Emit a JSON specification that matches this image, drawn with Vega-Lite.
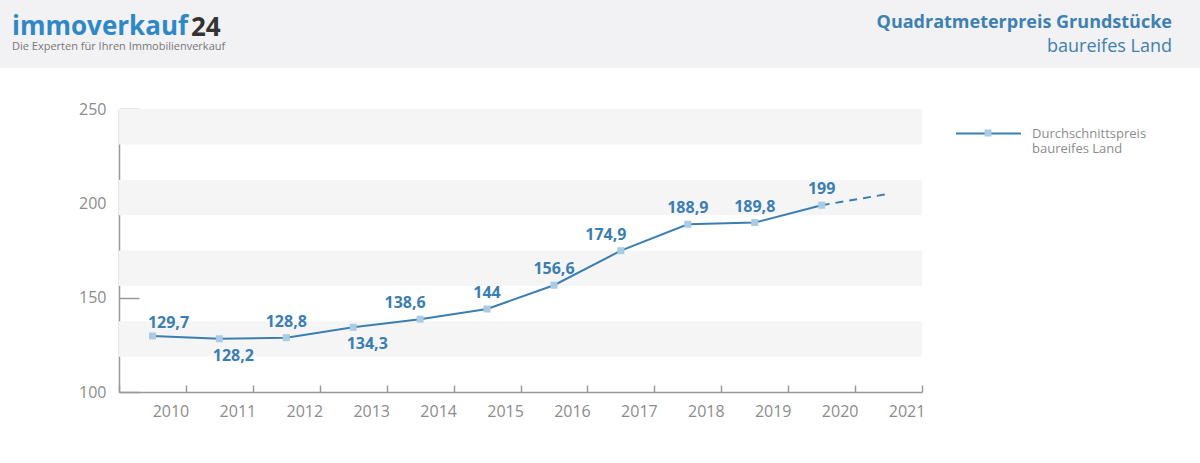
{
  "$schema": "https://vega.github.io/schema/vega-lite/v6.json",
  "padding": {"left": 0, "top": 0, "right": 0, "bottom": 40},
  "background": "white",
  "config": {
    "font": "Open Sans",
    "view": {"stroke": null},
    "locale": {"number": {"decimal": ",", "thousands": ".", "grouping": [3], "currency": ["", " €"]}}
  },
  "title": {
    "text": "immoverkauf", "subtitle": "Die Experten für Ihren Immobilienverkauf",
    "anchor": "start", "frame": "group", "orient": "top", "offset": -52, "dx": 12, "limit": 1000,
    "font": "Open Sans", "fontSize": 26, "fontWeight": "bold", "color": "#2f88c6",
    "subtitleFont": "Open Sans", "subtitleFontSize": 11, "subtitleColor": "#777777", "subtitlePadding": 1
  },
  "datasets": {
    "prices": [
      {"year": 2010, "value": 129.7, "series": "Durchschnittspreis baureifes Land"},
      {"year": 2011, "value": 128.2, "series": "Durchschnittspreis baureifes Land"},
      {"year": 2012, "value": 128.8, "series": "Durchschnittspreis baureifes Land"},
      {"year": 2013, "value": 134.3, "series": "Durchschnittspreis baureifes Land"},
      {"year": 2014, "value": 138.6, "series": "Durchschnittspreis baureifes Land"},
      {"year": 2015, "value": 144, "series": "Durchschnittspreis baureifes Land"},
      {"year": 2016, "value": 156.6, "series": "Durchschnittspreis baureifes Land"},
      {"year": 2017, "value": 174.9, "series": "Durchschnittspreis baureifes Land"},
      {"year": 2018, "value": 188.9, "series": "Durchschnittspreis baureifes Land"},
      {"year": 2019, "value": 189.8, "series": "Durchschnittspreis baureifes Land"},
      {"year": 2020, "value": 199, "series": "Durchschnittspreis baureifes Land"}
    ],
    "projection": [
      {"year": 2020, "value": 199},
      {"year": 2021, "value": 205}
    ],
    "bands": [
      {"from": 231.25, "to": 250},
      {"from": 193.75, "to": 212.5},
      {"from": 156.25, "to": 175},
      {"from": 118.75, "to": 137.5}
    ]
  },
  "spacing": 32,
  "resolve": {"legend": {"stroke": "independent", "fill": "independent"}},
  "vconcat": [
    {
      "spacing": 0,
      "bounds": "flush",
      "hconcat": [
        {
          "width": 191, "height": 68,
          "view": {"fill": "#f2f2f4", "stroke": null},
          "data": {"values": []},
          "mark": "point"
        },
        {
          "width": 39, "height": 68,
          "view": {"fill": "#f2f2f4", "stroke": null},
          "data": {"values": []},
          "mark": "point",
          "title": {
            "text": "24", "anchor": "start", "frame": "group", "orient": "top", "offset": -41, "limit": 1000,
            "font": "Open Sans", "fontSize": 26, "fontWeight": "bold", "color": "#333333"
          }
        },
        {
          "width": 970, "height": 68,
          "view": {"fill": "#f2f2f4", "stroke": null},
          "data": {"values": []},
          "mark": "point",
          "title": {
            "text": "Quadratmeterpreis Grundstücke", "subtitle": "baureifes Land",
            "anchor": "end", "frame": "group", "orient": "top", "offset": -56, "dx": -28, "limit": 1000,
            "font": "Open Sans", "fontSize": 18, "fontWeight": "bold", "color": "#3d80b1",
            "subtitleFont": "Open Sans", "subtitleFontSize": 18, "subtitleColor": "#3d80b1", "subtitlePadding": 6
          }
        }
      ]
    },
    {
      "spacing": 0,
      "resolve": {"legend": {"stroke": "independent", "fill": "independent"}},
      "hconcat": [
        {
          "width": 78, "height": 10,
          "view": {"fill": "white", "stroke": null},
          "data": {"values": []},
          "mark": "point"
        },
        {
          "width": 803, "height": 283,
          "layer": [
            {
              "data": {"name": "bands"},
              "mark": {"type": "rect", "color": "#f5f5f6"},
              "encoding": {
                "y": {
                  "field": "from", "type": "quantitative", "title": null,
                  "scale": {"domain": [100, 250], "nice": false, "zero": false},
                  "axis": {
                    "title": null, "values": [100, 150, 200, 250], "grid": false,
                    "tickSize": -20, "tickColor": "#999999", "tickWidth": 1.5,
                    "domainColor": "#999999", "domainWidth": 1.5,
                    "labelPadding": 33, "labelFontSize": 16, "labelColor": "#8c8c8c", "labelFont": "Open Sans"
                  }
                },
                "y2": {"field": "to"}
              }
            },
            {
              "data": {"name": "prices"},
              "mark": {"type": "line", "strokeWidth": 2},
              "encoding": {
                "x": {
                  "field": "year", "type": "ordinal", "title": null,
                  "scale": {"type": "band", "domain": [2010, 2011, 2012, 2013, 2014, 2015, 2016, 2017, 2018, 2019, 2020, 2021], "paddingInner": 0, "paddingOuter": 0},
                  "axis": {
                    "title": null, "tickBand": "extent", "labelOffset": 18, "labelAngle": 0,
                    "tickSize": -7, "tickColor": "#999999", "tickWidth": 1.5,
                    "domainColor": "#999999", "domainWidth": 1.5, "grid": false,
                    "labelPadding": 18, "labelFontSize": 16, "labelColor": "#8c8c8c", "labelFont": "Open Sans"
                  }
                },
                "y": {"field": "value", "type": "quantitative", "title": null},
                "stroke": {
                  "field": "series", "type": "nominal",
                  "scale": {"range": ["#3b7eb1"]},
                  "legend": {
                    "orient": "none", "legendX": 836, "legendY": -9, "title": null, "padding": 0,
                    "symbolType": "stroke", "symbolSize": 4225, "symbolStrokeWidth": 2,
                    "labelExpr": "[substring(datum.label, 0, 18), substring(datum.label, 19)]",
                    "labelFontSize": 13, "labelColor": "#8c8c8c", "labelOffset": 10, "labelFont": "Open Sans"
                  }
                }
              }
            },
            {
              "data": {"name": "projection"},
              "mark": {"type": "line", "strokeWidth": 2, "strokeDash": [8, 6], "color": "#3b7eb1"},
              "encoding": {
                "x": {"field": "year", "type": "ordinal", "title": null},
                "y": {"field": "value", "type": "quantitative", "title": null}
              }
            },
            {
              "data": {"name": "prices"},
              "mark": {"type": "point", "shape": "square", "size": 49, "filled": true, "opacity": 1, "strokeWidth": 0},
              "encoding": {
                "x": {"field": "year", "type": "ordinal", "title": null},
                "y": {"field": "value", "type": "quantitative", "title": null},
                "fill": {
                  "field": "series", "type": "nominal",
                  "scale": {"range": ["#a9cbe4"]},
                  "legend": {
                    "orient": "none", "legendX": 864, "legendY": 19, "title": null, "padding": 0,
                    "symbolType": "square", "symbolSize": 49, "symbolStrokeWidth": 0,
                    "labelExpr": "''"
                  }
                }
              }
            },
            {
              "data": {"name": "prices"},
              "transform": [{"filter": "datum.year == 2012 || datum.year == 2015 || datum.year == 2016 || datum.year == 2018 || datum.year == 2019 || datum.year == 2020"}],
              "mark": {"type": "text", "fontWeight": "bold", "fontSize": 16, "color": "#3b7eb1", "dy": -16, "font": "Open Sans"},
              "encoding": {
                "x": {"field": "year", "type": "ordinal", "title": null},
                "y": {"field": "value", "type": "quantitative", "title": null},
                "text": {"field": "value", "type": "quantitative", "format": ".1~f"}
              }
            },
            {
              "data": {"name": "prices"},
              "transform": [{"filter": "datum.year == 2014 || datum.year == 2017"}],
              "mark": {"type": "text", "fontWeight": "bold", "fontSize": 16, "color": "#3b7eb1", "dy": -16, "dx": -15, "font": "Open Sans"},
              "encoding": {
                "x": {"field": "year", "type": "ordinal", "title": null},
                "y": {"field": "value", "type": "quantitative", "title": null},
                "text": {"field": "value", "type": "quantitative", "format": ".1~f"}
              }
            },
            {
              "data": {"name": "prices"},
              "transform": [{"filter": "datum.year == 2010"}],
              "mark": {"type": "text", "fontWeight": "bold", "fontSize": 16, "color": "#3b7eb1", "dy": -13, "dx": 16, "font": "Open Sans"},
              "encoding": {
                "x": {"field": "year", "type": "ordinal", "title": null},
                "y": {"field": "value", "type": "quantitative", "title": null},
                "text": {"field": "value", "type": "quantitative", "format": ".1~f"}
              }
            },
            {
              "data": {"name": "prices"},
              "transform": [{"filter": "datum.year == 2011 || datum.year == 2013"}],
              "mark": {"type": "text", "fontWeight": "bold", "fontSize": 16, "color": "#3b7eb1", "dy": 17, "dx": 14, "font": "Open Sans"},
              "encoding": {
                "x": {"field": "year", "type": "ordinal", "title": null},
                "y": {"field": "value", "type": "quantitative", "title": null},
                "text": {"field": "value", "type": "quantitative", "format": ".1~f"}
              }
            }
          ]
        }
      ]
    }
  ]
}
